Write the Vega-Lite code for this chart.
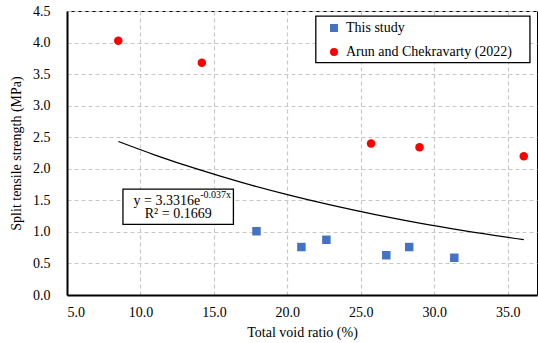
{
  "$schema": "https://vega.github.io/schema/vega-lite/v6.json",
  "width": 470,
  "height": 284,
  "autosize": {"type": "none"},
  "padding": {"left": 67, "top": 11, "right": 1, "bottom": 48},
  "background": "white",
  "config": {
    "font": "Liberation Serif",
    "view": {"stroke": "black", "strokeWidth": 1},
    "legend": {
      "labelFont": "Liberation Serif",
      "labelFontSize": 14,
      "labelColor": "black"
    }
  },
  "datasets": {
    "pts": [
      {"x": 17.9, "y": 1.01, "series": "This study"},
      {"x": 20.96, "y": 0.76, "series": "This study"},
      {"x": 22.66, "y": 0.875, "series": "This study"},
      {"x": 26.74, "y": 0.63, "series": "This study"},
      {"x": 28.3, "y": 0.76, "series": "This study"},
      {"x": 31.37, "y": 0.59, "series": "This study"},
      {"x": 8.49, "y": 4.03, "series": "Arun and Chekravarty (2022)"},
      {"x": 14.18, "y": 3.68, "series": "Arun and Chekravarty (2022)"},
      {"x": 25.7, "y": 2.4, "series": "Arun and Chekravarty (2022)"},
      {"x": 29.0, "y": 2.34, "series": "Arun and Chekravarty (2022)"},
      {"x": 36.1, "y": 2.2, "series": "Arun and Chekravarty (2022)"}
    ],
    "trend": [
      {"x": 8.5, "y": 2.432},
      {"x": 11, "y": 2.218},
      {"x": 14, "y": 1.985},
      {"x": 17, "y": 1.776},
      {"x": 20, "y": 1.59},
      {"x": 23, "y": 1.423},
      {"x": 26, "y": 1.273},
      {"x": 29, "y": 1.139},
      {"x": 32, "y": 1.02},
      {"x": 36.1, "y": 0.876}
    ],
    "one": [{"k": 1}]
  },
  "layer": [
    {
      "data": {"name": "trend"},
      "mark": {"type": "line", "color": "black", "strokeWidth": 1.3, "interpolate": "monotone"},
      "encoding": {
        "x": {
          "field": "x", "type": "quantitative",
          "scale": {"domain": [5, 37], "nice": false, "zero": false},
          "axis": {"values": [5, 10, 15, 20, 25, 30, 35], "format": ".1f", "labelPadding": 10, "title": "Total void ratio (%)", "titlePadding": 6, "grid": true, "gridColor": "#c8c8c8", "gridDash": [4, 3], "gridWidth": 1.2, "gridOpacity": 1, "domainColor": "black", "domainWidth": 2, "ticks": false, "labelFont": "Liberation Serif", "labelFontSize": 14, "labelColor": "black", "labelOverlap": false, "titleFont": "Liberation Serif", "titleFontSize": 14, "titleFontWeight": "normal", "titleColor": "black"}
        },
        "y": {
          "field": "y", "type": "quantitative",
          "scale": {"domain": [0, 4.5], "nice": false},
          "axis": {"values": [0, 0.5, 1, 1.5, 2, 2.5, 3, 3.5, 4, 4.5], "format": ".1f", "labelPadding": 17, "title": "Split tensile strength (MPa)", "titlePadding": 9, "grid": true, "gridColor": "#c8c8c8", "gridDash": [4, 3], "gridWidth": 1.2, "gridOpacity": 1, "domainColor": "black", "domainWidth": 2, "ticks": false, "labelFont": "Liberation Serif", "labelFontSize": 14, "labelColor": "black", "labelOverlap": false, "titleFont": "Liberation Serif", "titleFontSize": 14, "titleFontWeight": "normal", "titleColor": "black"}
        }
      }
    },
    {
      "data": {"name": "pts"},
      "mark": {"type": "point", "filled": true, "opacity": 1, "size": 72},
      "encoding": {
        "x": {
          "field": "x", "type": "quantitative",
          "axis": {"values": [5, 10, 15, 20, 25, 30, 35], "format": ".1f", "labelPadding": 10, "title": "Total void ratio (%)", "titlePadding": 6, "grid": true, "gridColor": "#c8c8c8", "gridDash": [4, 3], "gridWidth": 1.2, "gridOpacity": 1, "domainColor": "black", "domainWidth": 2, "ticks": false, "labelFont": "Liberation Serif", "labelFontSize": 14, "labelColor": "black", "labelOverlap": false, "titleFont": "Liberation Serif", "titleFontSize": 14, "titleFontWeight": "normal", "titleColor": "black"}
        },
        "y": {
          "field": "y", "type": "quantitative",
          "axis": {"values": [0, 0.5, 1, 1.5, 2, 2.5, 3, 3.5, 4, 4.5], "format": ".1f", "labelPadding": 17, "title": "Split tensile strength (MPa)", "titlePadding": 9, "grid": true, "gridColor": "#c8c8c8", "gridDash": [4, 3], "gridWidth": 1.2, "gridOpacity": 1, "domainColor": "black", "domainWidth": 2, "ticks": false, "labelFont": "Liberation Serif", "labelFontSize": 14, "labelColor": "black", "labelOverlap": false, "titleFont": "Liberation Serif", "titleFontSize": 14, "titleFontWeight": "normal", "titleColor": "black"}
        },
        "color": {
          "field": "series", "type": "nominal",
          "scale": {"domain": ["This study", "Arun and Chekravarty (2022)"], "range": ["#4472c4", "#ff0000"]},
          "legend": {"title": null, "orient": "none", "legendX": 260, "legendY": 10, "padding": 0, "rowPadding": 10, "labelOffset": 5, "symbolSize": 64, "labelLimit": 400}
        },
        "shape": {
          "field": "series", "type": "nominal",
          "scale": {"domain": ["This study", "Arun and Chekravarty (2022)"], "range": ["square", "circle"]},
          "legend": {"title": null, "orient": "none", "legendX": 260, "legendY": 10, "padding": 0, "rowPadding": 10, "labelOffset": 5, "symbolSize": 64, "labelLimit": 400}
        }
      }
    },
    {
      "data": {"name": "one"},
      "mark": {"type": "rect", "fill": "white", "stroke": "black", "strokeWidth": 1.3},
      "encoding": {
        "x": {"datum": 21.94, "type": "quantitative", "axis": {"values": [5, 10, 15, 20, 25, 30, 35], "format": ".1f", "labelPadding": 10, "title": "Total void ratio (%)", "titlePadding": 6, "grid": true, "gridColor": "#c8c8c8", "gridDash": [4, 3], "gridWidth": 1.2, "gridOpacity": 1, "domainColor": "black", "domainWidth": 2, "ticks": false, "labelFont": "Liberation Serif", "labelFontSize": 14, "labelColor": "black", "labelOverlap": false, "titleFont": "Liberation Serif", "titleFontSize": 14, "titleFontWeight": "normal", "titleColor": "black"}},
        "x2": {"datum": 36.52},
        "y": {"datum": 4.419, "type": "quantitative", "axis": {"values": [0, 0.5, 1, 1.5, 2, 2.5, 3, 3.5, 4, 4.5], "format": ".1f", "labelPadding": 17, "title": "Split tensile strength (MPa)", "titlePadding": 9, "grid": true, "gridColor": "#c8c8c8", "gridDash": [4, 3], "gridWidth": 1.2, "gridOpacity": 1, "domainColor": "black", "domainWidth": 2, "ticks": false, "labelFont": "Liberation Serif", "labelFontSize": 14, "labelColor": "black", "labelOverlap": false, "titleFont": "Liberation Serif", "titleFontSize": 14, "titleFontWeight": "normal", "titleColor": "black"}},
        "y2": {"datum": 3.682}
      }
    },
    {
      "data": {"name": "one"},
      "mark": {"type": "rect", "fill": "white", "stroke": "black", "strokeWidth": 1.3},
      "encoding": {
        "x": {"datum": 8.81, "type": "quantitative", "axis": {"values": [5, 10, 15, 20, 25, 30, 35], "format": ".1f", "labelPadding": 10, "title": "Total void ratio (%)", "titlePadding": 6, "grid": true, "gridColor": "#c8c8c8", "gridDash": [4, 3], "gridWidth": 1.2, "gridOpacity": 1, "domainColor": "black", "domainWidth": 2, "ticks": false, "labelFont": "Liberation Serif", "labelFontSize": 14, "labelColor": "black", "labelOverlap": false, "titleFont": "Liberation Serif", "titleFontSize": 14, "titleFontWeight": "normal", "titleColor": "black"}},
        "x2": {"datum": 16.33},
        "y": {"datum": 1.677, "type": "quantitative", "axis": {"values": [0, 0.5, 1, 1.5, 2, 2.5, 3, 3.5, 4, 4.5], "format": ".1f", "labelPadding": 17, "title": "Split tensile strength (MPa)", "titlePadding": 9, "grid": true, "gridColor": "#c8c8c8", "gridDash": [4, 3], "gridWidth": 1.2, "gridOpacity": 1, "domainColor": "black", "domainWidth": 2, "ticks": false, "labelFont": "Liberation Serif", "labelFontSize": 14, "labelColor": "black", "labelOverlap": false, "titleFont": "Liberation Serif", "titleFontSize": 14, "titleFontWeight": "normal", "titleColor": "black"}},
        "y2": {"datum": 1.119}
      }
    },
    {
      "data": {"name": "one"},
      "mark": {"type": "text", "text": "y = 3.3316e", "align": "right", "baseline": "middle", "fontSize": 14, "color": "black", "font": "Liberation Serif"},
      "encoding": {
        "x": {"datum": 14.07, "type": "quantitative", "axis": {"values": [5, 10, 15, 20, 25, 30, 35], "format": ".1f", "labelPadding": 10, "title": "Total void ratio (%)", "titlePadding": 6, "grid": true, "gridColor": "#c8c8c8", "gridDash": [4, 3], "gridWidth": 1.2, "gridOpacity": 1, "domainColor": "black", "domainWidth": 2, "ticks": false, "labelFont": "Liberation Serif", "labelFontSize": 14, "labelColor": "black", "labelOverlap": false, "titleFont": "Liberation Serif", "titleFontSize": 14, "titleFontWeight": "normal", "titleColor": "black"}},
        "y": {"datum": 1.492, "type": "quantitative", "axis": {"values": [0, 0.5, 1, 1.5, 2, 2.5, 3, 3.5, 4, 4.5], "format": ".1f", "labelPadding": 17, "title": "Split tensile strength (MPa)", "titlePadding": 9, "grid": true, "gridColor": "#c8c8c8", "gridDash": [4, 3], "gridWidth": 1.2, "gridOpacity": 1, "domainColor": "black", "domainWidth": 2, "ticks": false, "labelFont": "Liberation Serif", "labelFontSize": 14, "labelColor": "black", "labelOverlap": false, "titleFont": "Liberation Serif", "titleFontSize": 14, "titleFontWeight": "normal", "titleColor": "black"}}
      }
    },
    {
      "data": {"name": "one"},
      "mark": {"type": "text", "text": "-0.037x", "align": "left", "baseline": "middle", "fontSize": 10, "color": "black", "font": "Liberation Serif"},
      "encoding": {
        "x": {"datum": 14.07, "type": "quantitative", "axis": {"values": [5, 10, 15, 20, 25, 30, 35], "format": ".1f", "labelPadding": 10, "title": "Total void ratio (%)", "titlePadding": 6, "grid": true, "gridColor": "#c8c8c8", "gridDash": [4, 3], "gridWidth": 1.2, "gridOpacity": 1, "domainColor": "black", "domainWidth": 2, "ticks": false, "labelFont": "Liberation Serif", "labelFontSize": 14, "labelColor": "black", "labelOverlap": false, "titleFont": "Liberation Serif", "titleFontSize": 14, "titleFontWeight": "normal", "titleColor": "black"}},
        "y": {"datum": 1.582, "type": "quantitative", "axis": {"values": [0, 0.5, 1, 1.5, 2, 2.5, 3, 3.5, 4, 4.5], "format": ".1f", "labelPadding": 17, "title": "Split tensile strength (MPa)", "titlePadding": 9, "grid": true, "gridColor": "#c8c8c8", "gridDash": [4, 3], "gridWidth": 1.2, "gridOpacity": 1, "domainColor": "black", "domainWidth": 2, "ticks": false, "labelFont": "Liberation Serif", "labelFontSize": 14, "labelColor": "black", "labelOverlap": false, "titleFont": "Liberation Serif", "titleFontSize": 14, "titleFontWeight": "normal", "titleColor": "black"}}
      }
    },
    {
      "data": {"name": "one"},
      "mark": {"type": "text", "text": "R² = 0.1669", "align": "center", "baseline": "middle", "fontSize": 14, "color": "black", "font": "Liberation Serif"},
      "encoding": {
        "x": {"datum": 12.57, "type": "quantitative", "axis": {"values": [5, 10, 15, 20, 25, 30, 35], "format": ".1f", "labelPadding": 10, "title": "Total void ratio (%)", "titlePadding": 6, "grid": true, "gridColor": "#c8c8c8", "gridDash": [4, 3], "gridWidth": 1.2, "gridOpacity": 1, "domainColor": "black", "domainWidth": 2, "ticks": false, "labelFont": "Liberation Serif", "labelFontSize": 14, "labelColor": "black", "labelOverlap": false, "titleFont": "Liberation Serif", "titleFontSize": 14, "titleFontWeight": "normal", "titleColor": "black"}},
        "y": {"datum": 1.282, "type": "quantitative", "axis": {"values": [0, 0.5, 1, 1.5, 2, 2.5, 3, 3.5, 4, 4.5], "format": ".1f", "labelPadding": 17, "title": "Split tensile strength (MPa)", "titlePadding": 9, "grid": true, "gridColor": "#c8c8c8", "gridDash": [4, 3], "gridWidth": 1.2, "gridOpacity": 1, "domainColor": "black", "domainWidth": 2, "ticks": false, "labelFont": "Liberation Serif", "labelFontSize": 14, "labelColor": "black", "labelOverlap": false, "titleFont": "Liberation Serif", "titleFontSize": 14, "titleFontWeight": "normal", "titleColor": "black"}}
      }
    }
  ]
}
